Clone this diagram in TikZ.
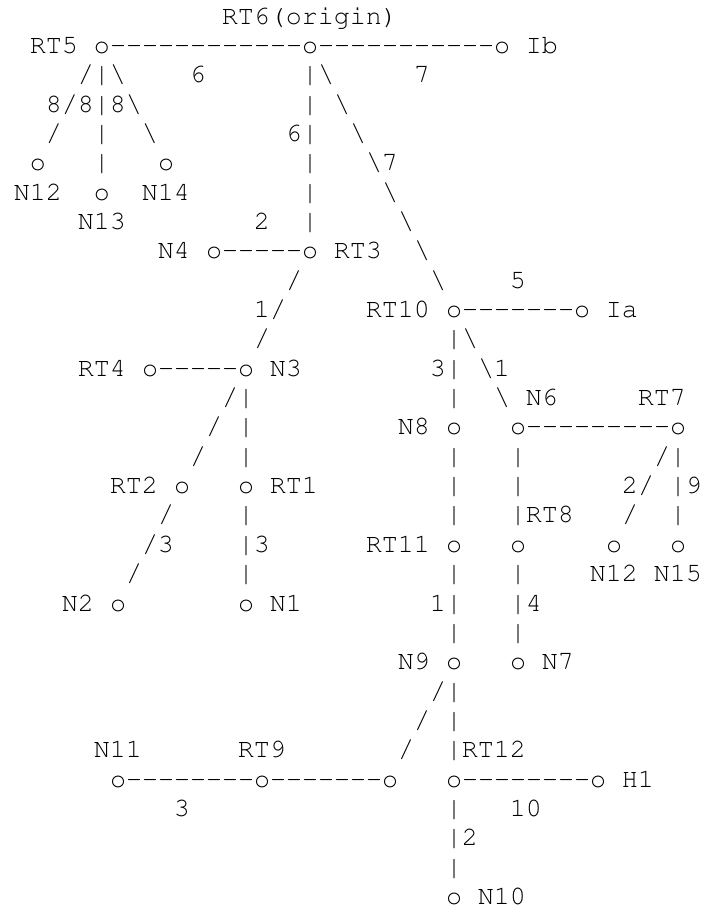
\documentclass[tikz,border=0pt]{standalone}
\usepackage[T1,TU]{fontenc}
\usetikzlibrary{decorations.markings}
\newcommand\courfont{\fontencoding{T1}\fontfamily{pcr}\fontseries{m}\fontshape{n}\fontsize{26.67pt}{29.34pt}\selectfont}
\begin{document}
\begin{tikzpicture}[x=16pt,y=-29.34pt,
    ch/.style={font=\courfont,inner ysep=0pt,inner xsep=-0.4pt,text height=15pt,text depth=0pt},
    lbl/.style={ch,anchor=west},
    hlink/.style={decorate,decoration={markings,mark=between positions 16pt and -8pt step 16pt with {\node[ch]{-};}}},
    vlink/.style={decorate,decoration={markings,mark=between positions 29.34pt and -14pt step 29.34pt with {\node[ch]{|};}}},
    llink/.style={decorate,decoration={markings,mark=between positions 33.42pt and -16pt step 33.42pt with {\node[ch]{/};}}},
    rlink/.style={decorate,decoration={markings,mark=between positions 33.42pt and -16pt step 33.42pt with {\node[ch]{\textbackslash};}}}]
    \useasboundingbox (-19.375,-0.569) rectangle (24.4375,30.48);
    % routers and networks (one character column = 1, one text line = 1)
    \node[ch] (rt5) at (-13,1) {o};
    \node[ch] (rt6) at (0,1) {o};
    \node[ch] (ib) at (12,1) {o};
    \node[ch] (n12) at (-17,5) {o};
    \node[ch] (n14) at (-9,5) {o};
    \node[ch] (n13) at (-13,6) {o};
    \node[ch] (n4) at (-6,8) {o};
    \node[ch] (rt3) at (0,8) {o};
    \node[ch] (rt10) at (9,10) {o};
    \node[ch] (ia) at (17,10) {o};
    \node[ch] (rt4) at (-10,12) {o};
    \node[ch] (n3) at (-4,12) {o};
    \node[ch] (n8) at (9,14) {o};
    \node[ch] (n6) at (13,14) {o};
    \node[ch] (rt7) at (23,14) {o};
    \node[ch] (rt2) at (-8,16) {o};
    \node[ch] (rt1) at (-4,16) {o};
    \node[ch] (rt11) at (9,18) {o};
    \node[ch] (rt8) at (13,18) {o};
    \node[ch] (n12b) at (19,18) {o};
    \node[ch] (n15) at (23,18) {o};
    \node[ch] (n2) at (-12,20) {o};
    \node[ch] (n1) at (-4,20) {o};
    \node[ch] (n9) at (9,22) {o};
    \node[ch] (n7) at (13,22) {o};
    \node[ch] (n11) at (-12,26) {o};
    \node[ch] (rt9) at (-3,26) {o};
    \node[ch] (jn) at (5,26) {o};
    \node[ch] (rt12) at (9,26) {o};
    \node[ch] (h1) at (18,26) {o};
    \node[ch] (n10) at (9,30) {o};
    % names
    \node[lbl] (lrt6) at (-5.5,0) {RT6(origin)};
    \node[lbl] (lrt5) at (-17.5,1) {RT5};
    \node[lbl] (lib) at (13.5,1) {Ib};
    \node[lbl] (ln12) at (-18.5,6) {N12};
    \node[lbl] (ln14) at (-10.5,6) {N14};
    \node[lbl] (ln13) at (-14.5,7) {N13};
    \node[lbl] (ln4) at (-9.5,8) {N4};
    \node[lbl] (lrt3) at (1.5,8) {RT3};
    \node[lbl] (lrt10) at (3.5,10) {RT10};
    \node[lbl] (lia) at (18.5,10) {Ia};
    \node[lbl] (lrt4) at (-14.5,12) {RT4};
    \node[lbl] (ln3) at (-2.5,12) {N3};
    \node[lbl] (ln6) at (13.5,13) {N6};
    \node[lbl] (lrt7) at (20.5,13) {RT7};
    \node[lbl] (ln8) at (5.5,14) {N8};
    \node[lbl] (lrt2) at (-12.5,16) {RT2};
    \node[lbl] (lrt1) at (-2.5,16) {RT1};
    \node[lbl] (lrt8) at (13.5,17) {RT8};
    \node[lbl] (lrt11) at (3.5,18) {RT11};
    \node[lbl] (ln12b) at (17.5,19) {N12};
    \node[lbl] (ln15) at (21.5,19) {N15};
    \node[lbl] (ln2) at (-15.5,20) {N2};
    \node[lbl] (ln1) at (-2.5,20) {N1};
    \node[lbl] (ln9) at (5.5,22) {N9};
    \node[lbl] (ln7) at (14.5,22) {N7};
    \node[lbl] (ln11) at (-13.5,25) {N11};
    \node[lbl] (lrt9) at (-4.5,25) {RT9};
    \node[lbl] (lrt12) at (9.5,25) {RT12};
    \node[lbl] (lh1) at (19.5,26) {H1};
    \node[lbl] (ln10) at (10.5,30) {N10};
    % costs
    \node[lbl] (k1) at (-7.5,2) {6};
    \node[lbl] (k2) at (6.5,2) {7};
    \node[lbl] (k3) at (-16.5,3) {8};
    \node[lbl] (k4) at (-14.5,3) {8};
    \node[lbl] (k5) at (-12.5,3) {8};
    \node[lbl] (k6) at (-1.5,4) {6};
    \node[lbl] (k7) at (4.5,5) {7};
    \node[lbl] (k8) at (-3.5,7) {2};
    \node[lbl] (k9) at (12.5,9) {5};
    \node[lbl] (k10) at (-3.5,10) {1};
    \node[lbl] (k11) at (7.5,12) {3};
    \node[lbl] (k12) at (11.5,12) {1};
    \node[lbl] (k13) at (19.5,16) {2};
    \node[lbl] (k14) at (23.5,16) {9};
    \node[lbl] (k15) at (-9.5,18) {3};
    \node[lbl] (k16) at (-3.5,18) {3};
    \node[lbl] (k17) at (7.5,20) {1};
    \node[lbl] (k18) at (13.5,20) {4};
    \node[lbl] (k19) at (-8.5,27) {3};
    \node[lbl] (k20) at (12.5,27) {10};
    \node[lbl] (k21) at (9.5,28) {2};
    % links
    \path[hlink] (rt5.center) -- (rt6.center);
    \path[hlink] (rt6.center) -- (ib.center);
    \path[hlink] (n4.center) -- (rt3.center);
    \path[hlink] (rt10.center) -- (ia.center);
    \path[hlink] (rt4.center) -- (n3.center);
    \path[hlink] (n6.center) -- (rt7.center);
    \path[hlink] (n11.center) -- (rt9.center);
    \path[hlink] (rt9.center) -- (jn.center);
    \path[hlink] (rt12.center) -- (h1.center);
    \path[vlink] (rt5.center) -- (n13.center);
    \path[vlink] (rt6.center) -- (rt3.center);
    \path[vlink] (rt10.center) -- (n8.center);
    \path[vlink] (n3.center) -- (rt1.center);
    \path[vlink] (rt1.center) -- (n1.center);
    \path[vlink] (n8.center) -- (rt11.center);
    \path[vlink] (n6.center) -- (rt8.center);
    \path[vlink] (rt7.center) -- (n15.center);
    \path[vlink] (rt11.center) -- (n9.center);
    \path[vlink] (rt8.center) -- (n7.center);
    \path[vlink] (n9.center) -- (rt12.center);
    \path[vlink] (rt12.center) -- (n10.center);
    \path[llink] (rt5.center) -- (n12.center);
    \path[llink] (rt3.center) -- (n3.center);
    \path[llink] (n3.center) -- (rt2.center);
    \path[llink] (rt2.center) -- (n2.center);
    \path[llink] (rt7.center) -- (n12b.center);
    \path[llink] (n9.center) -- (jn.center);
    \path[rlink] (rt5.center) -- (n14.center);
    \path[rlink] (rt6.center) -- (rt10.center);
    \path[rlink] (rt10.center) -- (n6.center);
\end{tikzpicture}
\end{document}
